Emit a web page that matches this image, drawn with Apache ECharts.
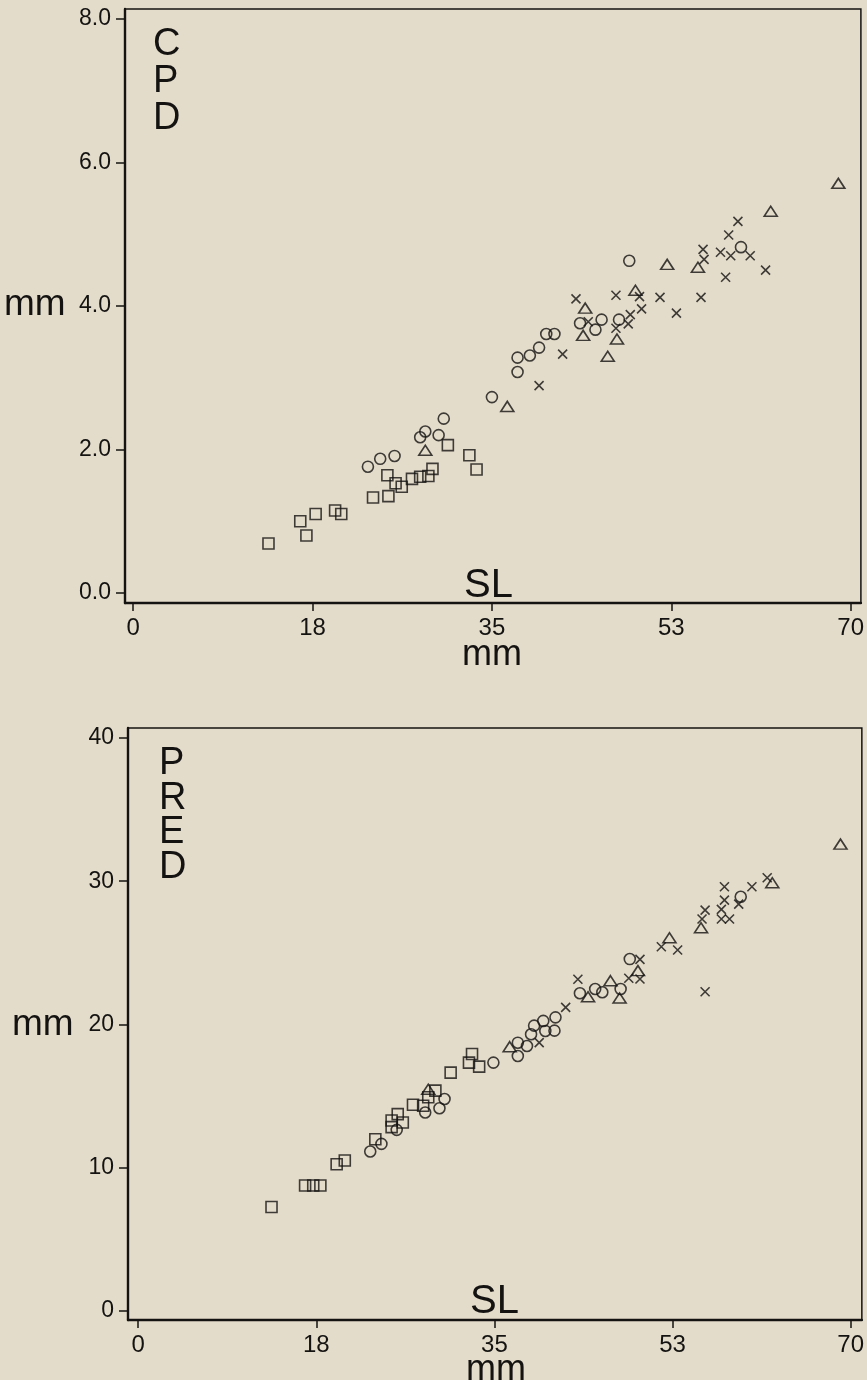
<!DOCTYPE html>
<html>
<head>
<meta charset="utf-8">
<script src="https://cdn.jsdelivr.net/npm/echarts@6/dist/echarts.min.js"></script>
<style>
  html, body { margin: 0; padding: 0; background: #e4dccb; }
  #visualisation { width: 867px; height: 1380px; }
</style>
</head>
<body>
<div id="visualisation"></div>
<script>
// Tick positions and their printed labels (SL axis is printed rounded)
const slTicks = [0, 17.5, 35, 52.5, 70];
const slTickLabels = ['0', '18', '35', '53', '70'];
const cpdTicks = [0, 2, 4, 6, 8];
const predTicks = [0, 10, 20, 30, 40];

// CPD vs SL, values [SL, CPD]
const cpdSquares = [[13.2,0.69],[16.3,1.00],[16.9,0.80],[17.8,1.10],[19.7,1.15],[20.3,1.10],[23.4,1.33],[24.9,1.35],[24.8,1.64],[25.6,1.53],[26.2,1.48],[27.2,1.59],[28.0,1.62],[28.8,1.63],[29.2,1.73],[30.7,2.06],[32.8,1.92],[33.5,1.72]];
const cpdCircles = [[22.9,1.76],[24.1,1.87],[25.5,1.91],[28.0,2.17],[28.5,2.25],[29.8,2.20],[30.3,2.43],[35.0,2.73],[37.5,3.08],[37.5,3.28],[38.7,3.31],[39.6,3.42],[40.3,3.61],[41.1,3.61],[43.6,3.76],[45.1,3.67],[45.7,3.81],[47.4,3.81],[48.4,4.63],[59.3,4.82]];
const cpdTriangles = [[28.5,1.99],[36.5,2.60],[43.9,3.59],[44.1,3.97],[46.3,3.30],[47.2,3.54],[49.0,4.22],[52.1,4.58],[55.1,4.54],[62.2,5.32],[68.8,5.71]];
const cpdCrosses = [[39.6,2.89],[41.9,3.33],[43.2,4.10],[44.4,3.78],[47.1,4.15],[47.1,3.69],[48.3,3.75],[48.5,3.88],[49.4,4.13],[49.6,3.96],[51.4,4.12],[53.0,3.90],[55.4,4.12],[55.6,4.79],[55.7,4.65],[57.3,4.75],[57.8,4.40],[58.1,4.99],[58.3,4.70],[59.0,5.18],[60.2,4.70],[61.7,4.50]];

// PRED vs SL, values [SL, PRED]
const predSquares = [[13.1,7.24],[16.4,8.74],[17.2,8.74],[17.9,8.74],[19.5,10.23],[20.3,10.49],[23.3,11.98],[24.9,13.28],[24.9,12.82],[25.5,13.73],[26.0,13.14],[27.0,14.38],[28.0,14.31],[28.5,14.91],[29.2,15.37],[30.7,16.63],[32.5,17.33],[32.8,17.93],[33.5,17.05]];
const predCircles = [[22.8,11.12],[23.9,11.65],[25.4,12.63],[28.2,13.84],[29.6,14.14],[30.1,14.79],[34.9,17.33],[37.3,18.72],[37.3,17.79],[38.2,18.49],[38.6,19.31],[38.9,19.91],[39.8,20.24],[40.0,19.54],[40.9,19.56],[41.0,20.49],[43.4,22.17],[44.9,22.47],[45.6,22.24],[47.4,22.47],[48.3,24.56],[59.2,28.91]];
const predTriangles = [[28.5,15.47],[36.5,18.44],[44.2,21.93],[46.4,23.05],[47.3,21.84],[49.1,23.75],[52.2,26.05],[55.3,26.75],[62.3,29.89],[69.0,32.59]];
const predCrosses = [[39.4,18.72],[42.0,21.19],[43.2,23.15],[48.2,23.22],[49.3,24.54],[49.3,23.17],[51.4,25.42],[53.0,25.19],[55.4,27.36],[55.7,27.98],[55.7,22.28],[57.3,27.36],[57.3,28.03],[58.1,27.36],[57.6,28.68],[57.6,29.61],[59.0,28.40],[60.3,29.61],[61.8,30.24]];

const ink = '#141311';
const font = 'Liberation Sans';

function drawVisualisation() {
  let visualisation = echarts.init(document.getElementById('visualisation'));

  const markStyle = { color: 'transparent', borderColor: ink, borderWidth: 1.6 };
  const crossPath = 'path://M0,0L10,10M10,0L0,10';

  function scatter(idx, data, symbol, size) {
    return {
      type: 'scatter', xAxisIndex: idx, yAxisIndex: idx, data: data,
      symbol: symbol, symbolSize: size, itemStyle: markStyle,
      silent: true, animation: false
    };
  }

  function xAxis(idx, min, max) {
    return {
      type: 'value', gridIndex: idx, min: min, max: max,
      splitLine: { show: false },
      axisLine: { show: true, onZero: false, lineStyle: { color: ink, width: 2.4 } },
      axisTick: { show: true, customValues: slTicks, length: 8, lineStyle: { color: ink, width: 1.5 } },
      axisLabel: {
        customValues: slTicks, margin: 13, color: ink, fontFamily: font, fontSize: 24,
        formatter: v => slTickLabels[slTicks.indexOf(v)]
      }
    };
  }

  function yAxis(idx, min, max, ticks, digits) {
    return {
      type: 'value', gridIndex: idx, min: min, max: max,
      splitLine: { show: false },
      axisLine: { show: true, onZero: false, lineStyle: { color: ink, width: 2.4 } },
      axisTick: { show: true, customValues: ticks, length: 9, lineStyle: { color: ink, width: 1.5 } },
      axisLabel: {
        customValues: ticks, margin: 14, color: ink, fontFamily: font, fontSize: 23,
        formatter: v => v.toFixed(digits)
      }
    };
  }

  const bigText = { fill: ink, fontFamily: font };

  let option = {
    backgroundColor: '#e4dccb',
    grid: [
      { left: 125, top: 9, width: 736, height: 594, show: true, borderColor: ink, borderWidth: 1.5, backgroundColor: 'transparent' },
      { left: 128, top: 728, width: 735, height: 592, show: true, borderColor: ink, borderWidth: 1.5, backgroundColor: 'transparent' }
    ],
    xAxis: [xAxis(0, -0.8, 71), xAxis(1, -1.0, 71.1)],
    yAxis: [yAxis(0, -0.14, 8.14, cpdTicks, 1), yAxis(1, -0.65, 40.7, predTicks, 0)],
    series: [
      scatter(0, cpdSquares, 'rect', 11),
      scatter(0, cpdCircles, 'circle', 11),
      scatter(0, cpdTriangles, 'triangle', [13, 10]),
      scatter(0, cpdCrosses, crossPath, 9),
      scatter(1, predSquares, 'rect', 11),
      scatter(1, predCircles, 'circle', 11),
      scatter(1, predTriangles, 'triangle', [13, 10]),
      scatter(1, predCrosses, crossPath, 9)
    ],
    graphic: [
      // top panel labels
      { type: 'text', left: 153, top: 26, style: Object.assign({ text: 'C\nP\nD', fontSize: 38, lineHeight: 37, align: 'center' }, bigText) },
      { type: 'text', left: 4, top: 286, style: Object.assign({ text: 'mm', fontSize: 37 }, bigText) },
      { type: 'text', left: 464, top: 566, style: Object.assign({ text: 'SL', fontSize: 40 }, bigText) },
      { type: 'text', left: 462, top: 637, style: Object.assign({ text: 'mm', fontSize: 36 }, bigText) },
      // bottom panel labels
      { type: 'text', left: 159, top: 745, style: Object.assign({ text: 'P\nR\nE\nD', fontSize: 38, lineHeight: 34.5, align: 'center' }, bigText) },
      { type: 'text', left: 12, top: 1006, style: Object.assign({ text: 'mm', fontSize: 37 }, bigText) },
      { type: 'text', left: 470, top: 1282, style: Object.assign({ text: 'SL', fontSize: 40 }, bigText) },
      { type: 'text', left: 466, top: 1352, style: Object.assign({ text: 'mm', fontSize: 36 }, bigText) }
    ]
  };

  visualisation.setOption(option);
}

window.addEventListener('load', drawVisualisation);
</script>
</body>
</html>
